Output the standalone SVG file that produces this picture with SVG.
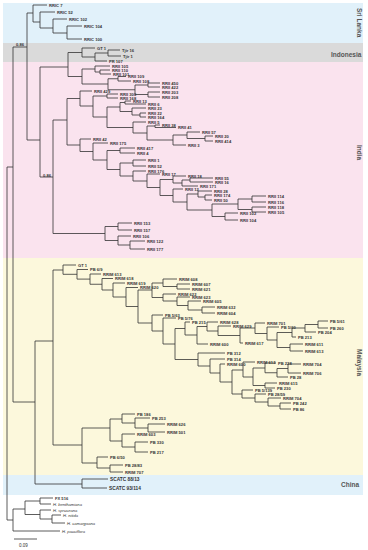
<svg xmlns="http://www.w3.org/2000/svg" width="368" height="550" viewBox="0 0 368 550">
<style>
.c{fill:none;stroke:#333;stroke-width:0.8}
text{font-family:"Liberation Sans",Arial,sans-serif}
.l{font-size:4.1px;font-weight:bold;fill:#333;dominant-baseline:central}
.i{font-style:italic;font-weight:normal}
.r{font-size:6.5px;font-weight:bold;fill:#555}
.s{font-size:4.8px;font-weight:bold;fill:#333;dominant-baseline:central}
</style>
<g id="bands">
<rect x="3" y="3" width="360" height="40" fill="#e1f1fa"/>
<rect x="3" y="43" width="360" height="19" fill="#dadada"/>
<rect x="3" y="62" width="360" height="196" fill="#fae3ee"/>
<rect x="3" y="258" width="360" height="217" fill="#fcf8dc"/>
<rect x="3" y="475" width="360" height="20" fill="#e1f1fa"/>
</g>
<g id="regions">
<text class="r" transform="translate(357,8) rotate(90)">Sri Lanka</text>
<text class="r" x="331" y="57">Indonesia</text>
<text class="r" transform="translate(357,145) rotate(90)">India</text>
<text class="r" transform="translate(357,349) rotate(90)">Malaysia</text>
<text class="r" x="341" y="487">China</text>
</g>
<g id="connectors" class="c">
<path d="M7 167V520M7 167H13M7 520H13M13 47V402M13 47H27M13 402H35M27 13V140M27 13H33M27 140H40"/>
<path d="M33 5V22M33 5H47M33 22H40M40 12V28M40 12H55M40 28H53M53 19V33M53 19H67M53 33H67M67 26V39M67 26H82M67 39H82"/>
<path d="M40 67V177M40 67H68M40 177H53M68 52.5V76.5M68 52.5H82M68 76.5H82M82 48V57M82 48H95M82 57H95M95 53V61M95 53H108M95 61H107M108 50V56M108 50H120M108 56H121"/>
<path d="M82 69V84M82 69H95M82 84H108M95 66V72M95 66H110M95 72H100M100 70V74M100 70H110M100 74H111M108 78.75V89.75M108 78.75H118M108 89.75H135M118 76.5V81M118 76.5H126M118 81H131M135 85V94.5M135 85H148M135 94.5H148M148 83V87M148 83H160M148 87H160M148 92V97M148 92H160M148 97H160"/>
<path d="M53 120V233.5M53 120H67M53 233.5H105M67 98.5V145M67 98.5H80M67 145H80M80 91V106M80 91H92M80 106H93M93 96V117M93 96H107M93 117H107M107 94V98M107 94H118M107 98H118M107 107V127.5M107 107H120M107 127.5H133M120 102.5V111.5M120 102.5H125M120 111.5H132M125 101V104M125 101H131M125 104H146M132 108V115M132 108H146M132 115H140M140 113V117M140 113H146M140 117H146M133 122V133M133 122H146M133 133H147M147 126V140M147 126H155M147 140H173M155 125V127.5M155 125H160M155 127.5H176M173 135V145M173 135H187M173 145H186M187 132V138.5M187 132H200M187 138.5H205M205 136V141M205 136H213M205 141H213"/>
<path d="M80 139V151.5M80 139H91M80 151.5H93M93 143V160M93 143H108M93 160H107M107 150.5V169.5M107 150.5H120M107 169.5H120M120 148V153M120 148H135M120 153H135M120 163V176M120 163H133M120 176H133M133 160V166M133 160H146M133 166H146M133 171V181M133 171H146M133 181H147M147 174V187.5M147 174H160M147 187.5H160M160 179.5V195.5M160 179.5H173M160 195.5H173M173 176V183M173 176H186M173 183H182M182 180V186M182 180H190M182 186H198M190 178V182M190 178H213M190 182H213M173 189V202M173 189H183M173 202H187M187 194V210M187 194H198M187 210H212M198 191V197M198 191H212M198 197H205M205 195V200M205 195H212M205 200H212M212 204V216.5M212 204H238M212 216.5H225M238 199V209.5M238 199H252M238 209.5H252M252 196V202M252 196H266M252 202H266M252 207V212M252 207H266M252 212H266M225 213V220M225 213H238M225 220H238"/>
<path d="M105 226.5V240.5M105 226.5H118M105 240.5H118M118 223V230M118 223H132M118 230H132M118 236V245M118 236H131M118 245H130M130 241V249M130 241H145M130 249H145"/>
<path d="M35 341V484M35 341H53M35 484H82M53 270V445M53 270H63M53 445H82M63 265V274.3M63 265H76M63 274.3H77M77 269.5V279.1M77 269.5H88M77 279.1H90M90 274V284.25M90 274H101M90 284.25H102M102 278.5V290M102 278.5H113M102 290H113M113 283V297M113 283H125M113 297H126M126 287.5V306.5M126 287.5H138M126 306.5H138M138 290V323M138 290H152M138 323H152"/>
<path d="M152 283V297.5M152 283H163M152 297.5H163M163 279V286.5M163 279H177M163 286.5H177M177 284V289M177 284H190M177 289H190M163 294V301M163 294H176M163 301H177M177 297V305.5M177 297H190M177 305.5H188M188 301V310M188 301H201M188 310H202M202 307V313M202 307H215M202 313H215"/>
<path d="M152 315V331M152 315H163M152 331H163M163 318V344M163 318H176M163 344H175M175 328.5V359.5M175 328.5H185M175 359.5H198M185 322V335M185 322H190M185 335H197M197 326.5V344M197 326.5H207M197 344H208M207 322V331M207 322H218M207 331H218M218 326V335.5M218 326H231M218 335.5H240M240 328V343M240 328H255M240 343H243M255 323V333.5M255 323H265M255 333.5H267M267 327V340M267 327H279M267 340H277M277 332.5V347.5M277 332.5H292M277 347.5H290M292 328V337M292 328H305M292 337H296M305 324.5V332M305 324.5H318M305 332H316M318 321V328M318 321H328M318 328H328M290 344V351M290 344H303M290 351H303"/>
<path d="M198 353V366M198 353H225M198 366H210M210 359V373M210 359H225M210 373H220M220 364V382M220 364H225M220 382H232M232 370V394M232 370H243M232 394H242M243 362V377M243 362H255M243 377H253M253 368V385.5M253 368H265M253 385.5H265M265 363V372.75M265 363H276M265 372.75H277M277 368.5V377M277 368.5H288M277 377H288M288 364V373M288 364H301M288 373H301M265 383V388M265 383H277M265 388H275M242 390V398M242 390H253M242 398H255M255 394V402M255 394H266M255 402H268M268 398V406M268 398H281M268 406H280M280 403V409M280 403H291M280 409H291"/>
<path d="M82 428V463M82 428H110M82 463H97M110 419V441M110 419H122M110 441H122M122 414V423M122 414H135M122 423H135M135 418V428M135 418H150M135 428H148M148 424V432M148 424H165M148 432H165M122 434V447M122 434H135M122 447H135M135 442V452M135 442H148M135 452H148M97 457V468M97 457H108M97 468H110M110 465V472M110 465H123M110 472H123"/>
<path d="M82 479V488M82 479H108M82 488H107"/>
<path d="M13 509V531M13 509H25M13 531H60M25 501V514.5M25 501H40M25 514.5H40M40 498V504M40 498H53M40 504H51M40 510V519M40 510H51M40 519H52M52 515V523M52 515H61M52 523H65"/>
</g>
<g id="support">
<text class="l" x="16" y="44">0.86</text>
<text class="l" x="43" y="175">0.86</text>
</g>
<g id="scale">
<path class="c" d="M14 539H37"/>
<text class="l" x="19" y="545" style="font-size:4.5px;font-weight:normal">0.09</text>
</g>
<g id="n-rric7"><text class="l" x="49" y="5">RRIC 7</text></g>
<g id="n-rric52"><text class="l" x="57" y="12">RRIC 52</text></g>
<g id="n-rric102"><text class="l" x="69" y="19">RRIC 102</text></g>
<g id="n-rric104"><text class="l" x="84" y="26">RRIC 104</text></g>
<g id="n-rric100"><text class="l" x="84" y="39">RRIC 100</text></g>
<g id="n-gt1a"><text class="l" x="97" y="48">GT 1</text></g>
<g id="n-tjir16"><text class="l" x="122" y="50">Tjir 16</text></g>
<g id="n-tjir1"><text class="l" x="123" y="56">Tjir 1</text></g>
<g id="n-pr107"><text class="l" x="109" y="61">PR 107</text></g>
<g id="n-rrii105a"><text class="l" x="112" y="66">RRII 105</text></g>
<g id="n-rrii110"><text class="l" x="112" y="70">RRII 110</text></g>
<g id="n-rrii101"><text class="l" x="113" y="74">RRII 101</text></g>
<g id="n-rrii109"><text class="l" x="128" y="76.5">RRII 109</text></g>
<g id="n-rrii108"><text class="l" x="133" y="81">RRII 108</text></g>
<g id="n-rrii450"><text class="l" x="162" y="83">RRII 450</text></g>
<g id="n-rrii422"><text class="l" x="162" y="87">RRII 422</text></g>
<g id="n-rrii203"><text class="l" x="162" y="92">RRII 203</text></g>
<g id="n-rrii208"><text class="l" x="162" y="97">RRII 208</text></g>
<g id="n-rrii429"><text class="l" x="94" y="91">RRII 429</text></g>
<g id="n-rrii300"><text class="l" x="120" y="94">RRII 300</text></g>
<g id="n-rrii168"><text class="l" x="120" y="98">RRII 168</text></g>
<g id="n-rrii13"><text class="l" x="133" y="101">RRII 13</text></g>
<g id="n-rrii6"><text class="l" x="148" y="104">RRII 6</text></g>
<g id="n-rrii23"><text class="l" x="148" y="108">RRII 23</text></g>
<g id="n-rrii22"><text class="l" x="148" y="113">RRII 22</text></g>
<g id="n-rrii164"><text class="l" x="148" y="117">RRII 164</text></g>
<g id="n-rrii5"><text class="l" x="148" y="122">RRII 5</text></g>
<g id="n-rrii38"><text class="l" x="162" y="125">RRII 38</text></g>
<g id="n-rrii41"><text class="l" x="178" y="127.5">RRII 41</text></g>
<g id="n-rrii57"><text class="l" x="202" y="132">RRII 57</text></g>
<g id="n-rrii20"><text class="l" x="215" y="136">RRII 20</text></g>
<g id="n-rrii414"><text class="l" x="215" y="141">RRII 414</text></g>
<g id="n-rrii3"><text class="l" x="188" y="145">RRII 3</text></g>
<g id="n-rrii42"><text class="l" x="93" y="139">RRII 42</text></g>
<g id="n-rrii175"><text class="l" x="110" y="143">RRII 175</text></g>
<g id="n-rrii417"><text class="l" x="137" y="148">RRII 417</text></g>
<g id="n-rrii4"><text class="l" x="137" y="153">RRII 4</text></g>
<g id="n-rrii1"><text class="l" x="148" y="160">RRII 1</text></g>
<g id="n-rrii52"><text class="l" x="148" y="166">RRII 52</text></g>
<g id="n-rrii176"><text class="l" x="148" y="171">RRII 176</text></g>
<g id="n-rrii17"><text class="l" x="162" y="174">RRII 17</text></g>
<g id="n-rrii18"><text class="l" x="188" y="176">RRII 18</text></g>
<g id="n-rrii55"><text class="l" x="215" y="178">RRII 55</text></g>
<g id="n-rrii16"><text class="l" x="215" y="182">RRII 16</text></g>
<g id="n-rrii171"><text class="l" x="200" y="186">RRII 171</text></g>
<g id="n-rrii12"><text class="l" x="185" y="189">RRII 12</text></g>
<g id="n-rrii28"><text class="l" x="214" y="191">RRII 28</text></g>
<g id="n-rrii174"><text class="l" x="214" y="195">RRII 174</text></g>
<g id="n-rrii50"><text class="l" x="214" y="200">RRII 50</text></g>
<g id="n-rrii114"><text class="l" x="268" y="196">RRII 114</text></g>
<g id="n-rrii116"><text class="l" x="268" y="202">RRII 116</text></g>
<g id="n-rrii118"><text class="l" x="268" y="207">RRII 118</text></g>
<g id="n-rrii105b"><text class="l" x="268" y="212">RRII 105</text></g>
<g id="n-rrii102"><text class="l" x="240" y="213">RRII 102</text></g>
<g id="n-rrii104"><text class="l" x="240" y="220">RRII 104</text></g>
<g id="n-rrii153"><text class="l" x="134" y="223">RRII 153</text></g>
<g id="n-rrii157"><text class="l" x="134" y="230">RRII 157</text></g>
<g id="n-rrii106"><text class="l" x="133" y="236">RRII 106</text></g>
<g id="n-rrii122"><text class="l" x="147" y="241">RRII 122</text></g>
<g id="n-rrii177"><text class="l" x="147" y="249">RRII 177</text></g>
<g id="n-gt1b"><text class="l" x="78" y="265">GT 1</text></g>
<g id="n-pb69"><text class="l" x="90" y="269.5">PB 6/9</text></g>
<g id="n-rrim613a"><text class="l" x="103" y="274">RRIM 613</text></g>
<g id="n-rrim618"><text class="l" x="115" y="278.5">RRIM 618</text></g>
<g id="n-rrim619"><text class="l" x="127" y="283">RRIM 619</text></g>
<g id="n-rrim620"><text class="l" x="140" y="287.5">RRIM 620</text></g>
<g id="n-rrim608"><text class="l" x="179" y="279">RRIM 608</text></g>
<g id="n-rrim607"><text class="l" x="192" y="284">RRIM 607</text></g>
<g id="n-rrim621"><text class="l" x="192" y="289">RRIM 621</text></g>
<g id="n-rrim622"><text class="l" x="178" y="294">RRIM 622</text></g>
<g id="n-rrim623"><text class="l" x="192" y="297">RRIM 623</text></g>
<g id="n-rrim605"><text class="l" x="203" y="301">RRIM 605</text></g>
<g id="n-rrim632"><text class="l" x="217" y="307">RRIM 632</text></g>
<g id="n-rrim604"><text class="l" x="217" y="313">RRIM 604</text></g>
<g id="n-pb563"><text class="l" x="165" y="315">PB 5/63</text></g>
<g id="n-pb576"><text class="l" x="178" y="318">PB 5/76</text></g>
<g id="n-pb215"><text class="l" x="192" y="322">PB 215</text></g>
<g id="n-rrim628"><text class="l" x="220" y="322">RRIM 628</text></g>
<g id="n-rrim629"><text class="l" x="233" y="326">RRIM 629</text></g>
<g id="n-rrim701"><text class="l" x="267" y="323">RRIM 701</text></g>
<g id="n-pb560"><text class="l" x="281" y="327">PB 5/60</text></g>
<g id="n-pb561"><text class="l" x="330" y="321">PB 5/61</text></g>
<g id="n-pb260"><text class="l" x="330" y="328">PB 260</text></g>
<g id="n-pb204"><text class="l" x="318" y="332">PB 204</text></g>
<g id="n-pb213"><text class="l" x="298" y="337">PB 213</text></g>
<g id="n-rrim617"><text class="l" x="245" y="343">RRIM 617</text></g>
<g id="n-rrim600a"><text class="l" x="210" y="344">RRIM 600</text></g>
<g id="n-rrim611"><text class="l" x="305" y="344">RRIM 611</text></g>
<g id="n-rrim613b"><text class="l" x="305" y="351">RRIM 613</text></g>
<g id="n-pb312"><text class="l" x="227" y="353">PB 312</text></g>
<g id="n-pb314"><text class="l" x="227" y="359">PB 314</text></g>
<g id="n-rrim600b"><text class="l" x="227" y="364">RRIM 600</text></g>
<g id="n-rrim612"><text class="l" x="257" y="362">RRIM 612</text></g>
<g id="n-pb228"><text class="l" x="278" y="363">PB 228</text></g>
<g id="n-rrim704a"><text class="l" x="303" y="364">RRIM 704</text></g>
<g id="n-rrim706"><text class="l" x="303" y="373">RRIM 706</text></g>
<g id="n-pb28"><text class="l" x="290" y="377">PB 28</text></g>
<g id="n-rrim615"><text class="l" x="279" y="383">RRIM 615</text></g>
<g id="n-pb230"><text class="l" x="277" y="388">PB 230</text></g>
<g id="n-pb5139"><text class="l" x="255" y="390">PB 5/139</text></g>
<g id="n-pb2859"><text class="l" x="268" y="394">PB 28/59</text></g>
<g id="n-rrim704b"><text class="l" x="283" y="398">RRIM 704</text></g>
<g id="n-pb242"><text class="l" x="293" y="403">PB 242</text></g>
<g id="n-pb86"><text class="l" x="293" y="409">PB 86</text></g>
<g id="n-pb186"><text class="l" x="137" y="414">PB 186</text></g>
<g id="n-pb253"><text class="l" x="152" y="418">PB 253</text></g>
<g id="n-rrim626"><text class="l" x="167" y="424">RRIM 626</text></g>
<g id="n-rrim501"><text class="l" x="167" y="432">RRIM 501</text></g>
<g id="n-rrim603"><text class="l" x="137" y="434">RRIM 603</text></g>
<g id="n-pb330"><text class="l" x="150" y="442">PB 330</text></g>
<g id="n-pb217"><text class="l" x="150" y="452">PB 217</text></g>
<g id="n-pb650"><text class="l" x="110" y="457">PB 6/50</text></g>
<g id="n-pb2883"><text class="l" x="125" y="465">PB 28/83</text></g>
<g id="n-rrim707"><text class="l" x="125" y="472">RRIM 707</text></g>
<g id="n-scatc8813"><text class="s" x="110" y="479">SCATC 88/13</text></g>
<g id="n-scatc93114"><text class="s" x="109" y="488">SCATC 93/114</text></g>
<g id="n-fx516"><text class="l" x="55" y="498">FX 516</text></g>
<g id="n-hbenth"><text class="l i" x="53" y="504">H. benthamiana</text></g>
<g id="n-hspruce"><text class="l i" x="53" y="510">H. spruceana</text></g>
<g id="n-hnitida"><text class="l i" x="63" y="515">H. nitida</text></g>
<g id="n-hcamarg"><text class="l i" x="67" y="523">H. camargoana</text></g>
<g id="n-hpauci"><text class="l i" x="62" y="531">H. pauciflora</text></g>
</svg>
